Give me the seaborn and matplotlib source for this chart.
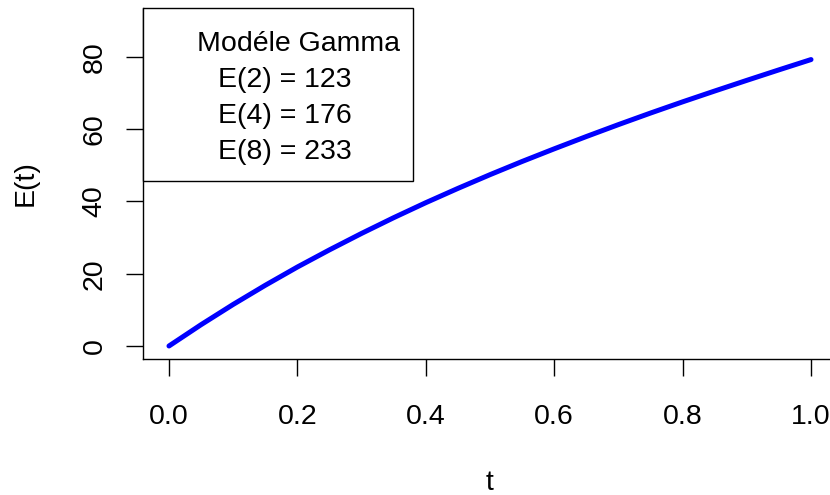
import matplotlib
matplotlib.use("Agg")
import matplotlib.pyplot as plt
from matplotlib.patches import Rectangle
import seaborn as sns
import pandas as pd

# ---- data ----
t_values = [0.00, 0.05, 0.10, 0.15, 0.20, 0.25, 0.30, 0.35, 0.40, 0.45, 0.50,
            0.55, 0.60, 0.65, 0.70, 0.75, 0.80, 0.85, 0.90, 0.95, 1.00]
e_values = [0.0, 5.9, 11.5, 16.8, 21.85, 26.6, 31.15, 35.5, 39.65, 43.6, 47.4,
            51.05, 54.55, 57.95, 61.25, 64.45, 67.55, 70.55, 73.5, 76.4, 79.25]
x_ticks = [0.0, 0.2, 0.4, 0.6, 0.8, 1.0]
x_tick_labels = ["0.0", "0.2", "0.4", "0.6", "0.8", "1.0"]
y_ticks = [0, 20, 40, 60, 80]
y_tick_labels = ["0", "20", "40", "60", "80"]
legend_title = "Modéle Gamma"
legend_items = ["E(2) = 123", "E(4) = 176", "E(8) = 233"]

sns.set_style("ticks")
plt.rcParams["font.family"] = ["Liberation Sans", "DejaVu Sans"]
plt.rcParams["text.color"] = "black"
plt.rcParams["axes.labelcolor"] = "black"
plt.rcParams["xtick.color"] = "black"
plt.rcParams["ytick.color"] = "black"
plt.rcParams["axes.edgecolor"] = "black"

W, H = 830, 495
fig = plt.figure(figsize=(W / 100, H / 100), dpi=100)
# plot region in pixels: left 143.3, right 836.7, top 7.7, bottom 359
ax = fig.add_axes([143.3 / W, (H - 359) / H, 693.4 / W, 351.3 / H])

df = pd.DataFrame({"t": t_values, "E": e_values})
sns.lineplot(data=df, x="t", y="E", ax=ax, color="#0000FF", linewidth=3.6,
             solid_capstyle="round", solid_joinstyle="round")

ax.set_xlim(-0.04, 1.04)
ax.set_ylim(-3.6, 93.6)

for s in ["top", "right"]:
    ax.spines[s].set_visible(False)
for s in ["left", "bottom"]:
    ax.spines[s].set_linewidth(1.0)
    ax.spines[s].set_color("black")

fs = 20.5
ax.set_xticks(x_ticks)
ax.set_xticklabels(x_tick_labels, fontsize=fs, color="black")
ax.set_yticks(y_ticks)
ax.set_yticklabels(y_tick_labels, fontsize=fs, rotation=90, va="center",
                   color="black")
ax.tick_params(axis="both", direction="out", length=12.2, width=1.0,
               color="black", labelcolor="black")
ax.tick_params(axis="x", pad=20)
ax.tick_params(axis="y", pad=13.5)

ax.set_xlabel("t", fontsize=fs, va="baseline", color="black")
ax.xaxis.set_label_coords(0.5, (359 - 490.5) / 351.3)
ax.set_ylabel("E(t)", fontsize=fs, rotation=90, va="baseline", ha="center",
              rotation_mode="anchor", color="black")
ax.yaxis.set_label_coords((33 - 143.3) / 693.4, 0.5)

# legend box (R-style legend, top-left of plot region)
px2ax_x = lambda px: (px - 143.3) / 693.4
px2ax_y = lambda py: (359 - py) / 351.3
x0, x1 = px2ax_x(143.3), px2ax_x(413)
y0, y1 = px2ax_y(180.5), px2ax_y(7.7)
ax.add_patch(Rectangle((x0, y0), x1 - x0, y1 - y0, transform=ax.transAxes,
                       fill=True, facecolor="white", edgecolor="black",
                       linewidth=1.0, clip_on=False, zorder=5))
ax.text(px2ax_x(298.5), px2ax_y(51), legend_title, transform=ax.transAxes,
        fontsize=fs, ha="center", va="baseline", color="black", zorder=6)
for i, item in enumerate(legend_items):
    ax.text(px2ax_x(218), px2ax_y(87.3 + 36 * i), item, transform=ax.transAxes,
            fontsize=fs, ha="left", va="baseline", color="black", zorder=6)

fig.savefig("out.png", dpi=100, facecolor="white")
